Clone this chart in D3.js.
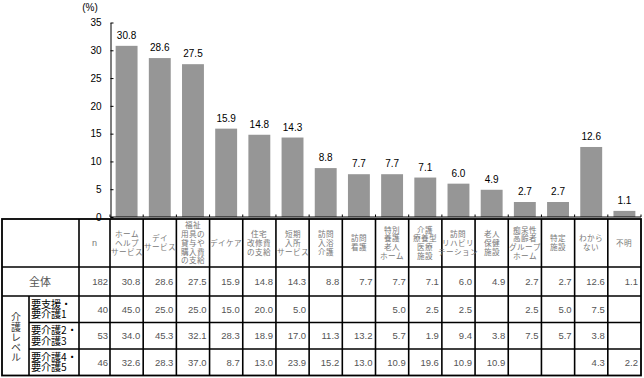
<!DOCTYPE html>
<html><head><meta charset="utf-8">
<script src="https://cdn.jsdelivr.net/npm/d3@7"></script>
<style>
@font-face{
  font-family:"JPTight";
  src: local("Noto Sans CJK JP Regular"), local("NotoSansCJKjp-Regular"), local("Noto Sans CJK JP");
  ascent-override:86%; descent-override:14%; line-gap-override:0%;
}
body{margin:0;background:#fff;}
text{font-family:"Liberation Sans",Arial,sans-serif;}
.jp{font-family:"JPTight","Noto Sans CJK JP",sans-serif;}
</style></head>
<body><svg id="c" width="644" height="378"></svg>
<script>
// ---- data ----
const categories = ["ホーム/ヘルプ/サービス","デイ/サービス","福祉/用具の/貸与や/購入費/の支給","デイケア","住宅/改修費/の支給","短期/入所/サービス","訪問/入浴/介護","訪問/看護","特別/養護/老人/ホーム","介護/療養型/医療/施設","訪問/リハビリ/テーション","老人/保健/施設","痴呆性/高齢者/グループ/ホーム","特定/施設","わから/ない","不明"];
const totalValues = [30.8,28.6,27.5,15.9,14.8,14.3,8.8,7.7,7.7,7.1,6.0,4.9,2.7,2.7,12.6,1.1];
const totalN = 182;
const groupTitle = "介護レベル";
const levelLabels = ["要支援・/要介護1","要介護2・/要介護3","要介護4・/要介護5"];
const levelN = [40,53,46];
const level1 = [45.0,25.0,25.0,15.0,20.0,5.0,null,null,5.0,2.5,2.5,null,2.5,5.0,7.5,null];
const level2 = [34.0,45.3,32.1,28.3,18.9,17.0,11.3,13.2,5.7,1.9,9.4,3.8,7.5,5.7,3.8,null];
const level3 = [32.6,28.3,37.0,8.7,13.0,23.9,15.2,13.0,10.9,19.6,10.9,10.9,null,null,4.3,2.2];
const yTicks = [0,5,10,15,20,25,30,35];
const unitLabel = "(%)";
const totalLabel = "全体";
const nLabel = "n";

function draw(){
const svg = d3.select("#c");
svg.selectAll("*").remove();
const x = d3.scaleBand().domain(d3.range(categories.length)).range([110,641]).paddingInner(0.34).paddingOuter(0.17);
const y = d3.scaleLinear().domain([0,35]).range([217,22.5]);
const step = x.step();
const x0 = x.range()[0];

// bars
svg.append("g").selectAll("rect").data(totalValues).join("rect")
  .attr("x",(d,i)=>x(i)).attr("width",x.bandwidth())
  .attr("y",d=>y(d)).attr("height",d=>y(0)-y(d)).attr("fill","#969696");
svg.append("g").selectAll("text").data(totalValues).join("text")
  .attr("x",(d,i)=>x(i)+x.bandwidth()/2).attr("y",d=>y(d)-7)
  .attr("text-anchor","middle").attr("font-size",10).attr("fill","#000")
  .text(d=>d.toFixed(1));

// y axis
const ya = svg.append("g").attr("transform","translate(110.5,0)")
  .call(d3.axisLeft(y).tickValues(yTicks).tickSizeInner(-3).tickSizeOuter(0).tickPadding(9));
ya.select(".domain").attr("stroke","#000");
ya.selectAll(".tick line").attr("stroke","#000");
ya.selectAll(".tick text").attr("font-size",10).attr("fill","#000").attr("font-family","Liberation Sans,Arial,sans-serif");
svg.append("text").attr("x",90).attr("y",11).attr("text-anchor","middle").attr("font-size",10).text(unitLabel);

// x axis line + boundary ticks
svg.append("line").attr("x1",110).attr("x2",641).attr("y1",217).attr("y2",217).attr("stroke","#000");
svg.append("g").selectAll("line").data(d3.range(categories.length+1)).join("line")
  .attr("x1",i=>x0+i*step).attr("x2",i=>x0+i*step).attr("y1",217).attr("y2",214.5).attr("stroke","#000");

// ---- table ----
const rowsY = [219,267,296,322.5,349,375.5];
const colX = [2,29,79,110].concat(d3.range(1,categories.length+1).map(i=>x0+i*step));
const tg = svg.append("g");
const L = (a,b,c,d,w)=>tg.append("line").attr("x1",a).attr("y1",b).attr("x2",c).attr("y2",d).attr("stroke","#000").attr("stroke-width",w||1.6);
tg.append("rect").attr("x",2).attr("y",219).attr("width",639).attr("height",375.5-219).attr("fill","none").attr("stroke","#000").attr("stroke-width",1.8);
L(2,267,641,267); L(2,296,641,296); L(29,322.5,641,322.5); L(29,349,641,349);
L(29,296,29,375.5);
colX.slice(2,colX.length-1).forEach(cx=>L(cx,219,cx,375.5));

// header
svg.append("text").attr("x",94.5).attr("y",246).attr("text-anchor","middle").attr("font-size",9).attr("fill","#777").text(nLabel);
categories.forEach((c,i)=>{
  const lines=c.split("/");
  const cx=x0+i*step+step/2;
  const lh=8.7;
  const top=243-(lines.length-1)*lh/2;
  const t=svg.append("text").attr("class","jp").attr("text-anchor","middle").attr("font-size",7.6).attr("fill","#777");
  lines.forEach((s,k)=>t.append("tspan").attr("x",cx).attr("y",top+k*lh+2.8).text(s));
});

// rows
const fmt = d=> d==null? "" : d.toFixed(1);
const cellText=(vals,n,cy)=>{
  tg.append("text").attr("x",108).attr("y",cy+3.5).attr("text-anchor","end").attr("font-size",9.5).attr("fill","#555").text(n);
  vals.forEach((v,i)=>{
    if(v==null) return;
    tg.append("text").attr("x",x0+(i+1)*step-3).attr("y",cy+3.5).attr("text-anchor","end").attr("font-size",9.5).attr("fill","#555").text(fmt(v));
  });
};
tg.append("text").attr("class","jp").attr("x",40).attr("y",285.5).attr("text-anchor","middle").attr("font-size",11).attr("fill","#555").text(totalLabel);
cellText(totalValues,totalN,281.5);
[level1,level2,level3].forEach((vals,r)=>{
  const cy=(rowsY[r+2]+rowsY[r+3])/2;
  cellText(vals,levelN[r],cy);
  const t=tg.append("text").attr("class","jp").attr("font-size",10.2).attr("fill","#000");
  levelLabels[r].split("/").forEach((s,k)=>t.append("tspan").attr("x",31).attr("y",cy-1.5+k*10.6).text(s));
});
tg.append("text").attr("class","jp").attr("x",15.5).attr("y",311.5)
  .attr("writing-mode","vertical-rl").attr("font-size",10).attr("fill","#333")
  .text(groupTitle);
}
draw();
if(document.fonts && document.fonts.ready) document.fonts.ready.then(draw);
</script></body></html>
